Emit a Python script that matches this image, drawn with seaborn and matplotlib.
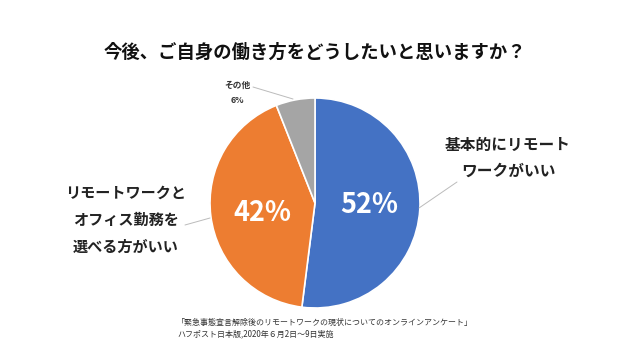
import matplotlib
matplotlib.use("Agg")
import matplotlib.pyplot as plt
import seaborn as sns

# data
CATEGORIES = ["基本的にリモート\nワークがいい", "リモートワークと\nオフィス勤務を\n選べる方がいい", "その他"]
SHARES = [52, 42, 6]
COLORS = ["#4472C4", "#ED7D31", "#A5A5A5"]
TITLE = "今後、ご自身の働き方をどうしたいと思いますか？"
SOURCE = ["「緊急事態宣言解除後のリモートワークの現状についてのオンラインアンケート」",
          "ハフポスト日本版,2020年６月2日〜9日実施"]

sns.set_theme(style="white")
plt.rcParams["font.family"] = ["Noto Sans CJK JP", "DejaVu Sans"]

W, H = 630, 354
fig = plt.figure(figsize=(W / 100, H / 100), dpi=100)
fig.patch.set_facecolor("white")

def px(x, y):
    return x / W, 1 - y / H

def leader(x0, y0, x1, y1):
    fig.add_artist(plt.Line2D([x0 / W, x1 / W], [1 - y0 / H, 1 - y1 / H],
                              color="#BBBBBB", linewidth=0.7))

# pie axes centred at (315, 203), radius ~105 px
cx, cy, r = 315, 203, 105
ax = fig.add_axes([(cx - r) / W, 1 - (cy + r) / H, 2 * r / W, 2 * r / H])
wedges, _ = ax.pie(SHARES, colors=COLORS, startangle=90, counterclock=False,
                   wedgeprops=dict(edgecolor="white", linewidth=1.2))
ax.set_aspect("auto")
ax.set_xlim(-1, 1)
ax.set_ylim(-1, 1)
ax.axis("off")

fig.text(*px(315, 52), TITLE, ha="center", va="center", fontsize=13.2,
         fontweight="bold", color="#111111")

# inside labels
fig.text(*px(369, 205), f"{SHARES[0]}%", ha="center", va="center", fontsize=19.5,
         fontweight="bold", color="white")
fig.text(*px(262, 213), f"{SHARES[1]}%", ha="center", va="center", fontsize=19.5,
         fontweight="bold", color="white")

# outside labels
fig.text(*px(508, 158), CATEGORIES[0], ha="center", va="center", fontsize=11.3,
         fontweight="bold", color="#222222", linespacing=1.8)
fig.text(*px(126, 220), CATEGORIES[1], ha="center", va="center", fontsize=10.9,
         fontweight="bold", color="#222222", linespacing=1.85)
fig.text(*px(237, 93), f"{CATEGORIES[2]}\n{SHARES[2]}%", ha="center", va="center",
         fontsize=6.3, fontweight="bold", color="#333333", linespacing=1.8)

leader(253, 87, 293, 99)
leader(457, 182, 419, 208)
leader(185, 225, 210, 218)

fig.text(*px(177, 322), SOURCE[0], ha="left", va="center", fontsize=5.75, color="#333333")
fig.text(*px(177, 334), SOURCE[1], ha="left", va="center", fontsize=5.75, color="#333333")

fig.savefig("out.png", dpi=100, facecolor="white")
